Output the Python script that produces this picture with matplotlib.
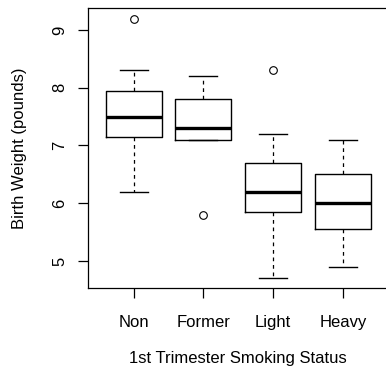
import matplotlib
matplotlib.use('Agg')
import matplotlib.pyplot as plt

groups = ['Non', 'Former', 'Light', 'Heavy']
whislo = [6.2, 7.1, 4.7, 4.9]
q1 = [7.15, 7.1, 5.85, 5.55]
med = [7.5, 7.3, 6.2, 6.0]
q3 = [7.95, 7.8, 6.7, 6.5]
whishi = [8.3, 8.2, 7.2, 7.1]
fliers = [[9.2], [5.8], [8.3], []]

plt.rcParams['font.family'] = ['Liberation Sans', 'DejaVu Sans']

stats = []
for i, g in enumerate(groups):
    stats.append({'label': g, 'whislo': whislo[i], 'q1': q1[i], 'med': med[i],
                  'q3': q3[i], 'whishi': whishi[i], 'fliers': fliers[i]})

fig = plt.figure(figsize=(3.86, 3.69), dpi=100)
ax = fig.add_axes([0.2267, 0.2195, 0.7813, 0.7585])

ax.bxp(stats, positions=[1, 2, 3, 4], widths=0.8, showfliers=True,
       boxprops=dict(color='black', linewidth=1.0),
       medianprops=dict(color='black', linewidth=2.4, solid_capstyle='butt'),
       whiskerprops=dict(color='black', linewidth=0.9, linestyle=(0, (3, 3))),
       capprops=dict(color='black', linewidth=1.0),
       capwidths=0.4,
       flierprops=dict(marker='o', markerfacecolor='none', markeredgecolor='black',
                       markersize=5.5, markeredgewidth=0.8))

ax.set_xlim(0.34, 4.66)
ax.set_ylim(4.53, 9.38)
ax.set_yticks([5, 6, 7, 8, 9])
ax.set_yticklabels(['5', '6', '7', '8', '9'], rotation=90, va='center')
ax.set_xticks([1, 2, 3, 4])
ax.set_xticklabels(groups)
ax.tick_params(axis='both', length=7.2, width=0.9, labelsize=12)
ax.tick_params(axis='y', pad=7.5)
ax.tick_params(axis='x', pad=12)
for s in ax.spines.values():
    s.set_linewidth(0.9)

ax.set_ylabel('Birth Weight (pounds)', fontsize=12, labelpad=18)
ax.set_xlabel('1st Trimester Smoking Status', fontsize=12, labelpad=15)

fig.savefig('out.png', dpi=100)
